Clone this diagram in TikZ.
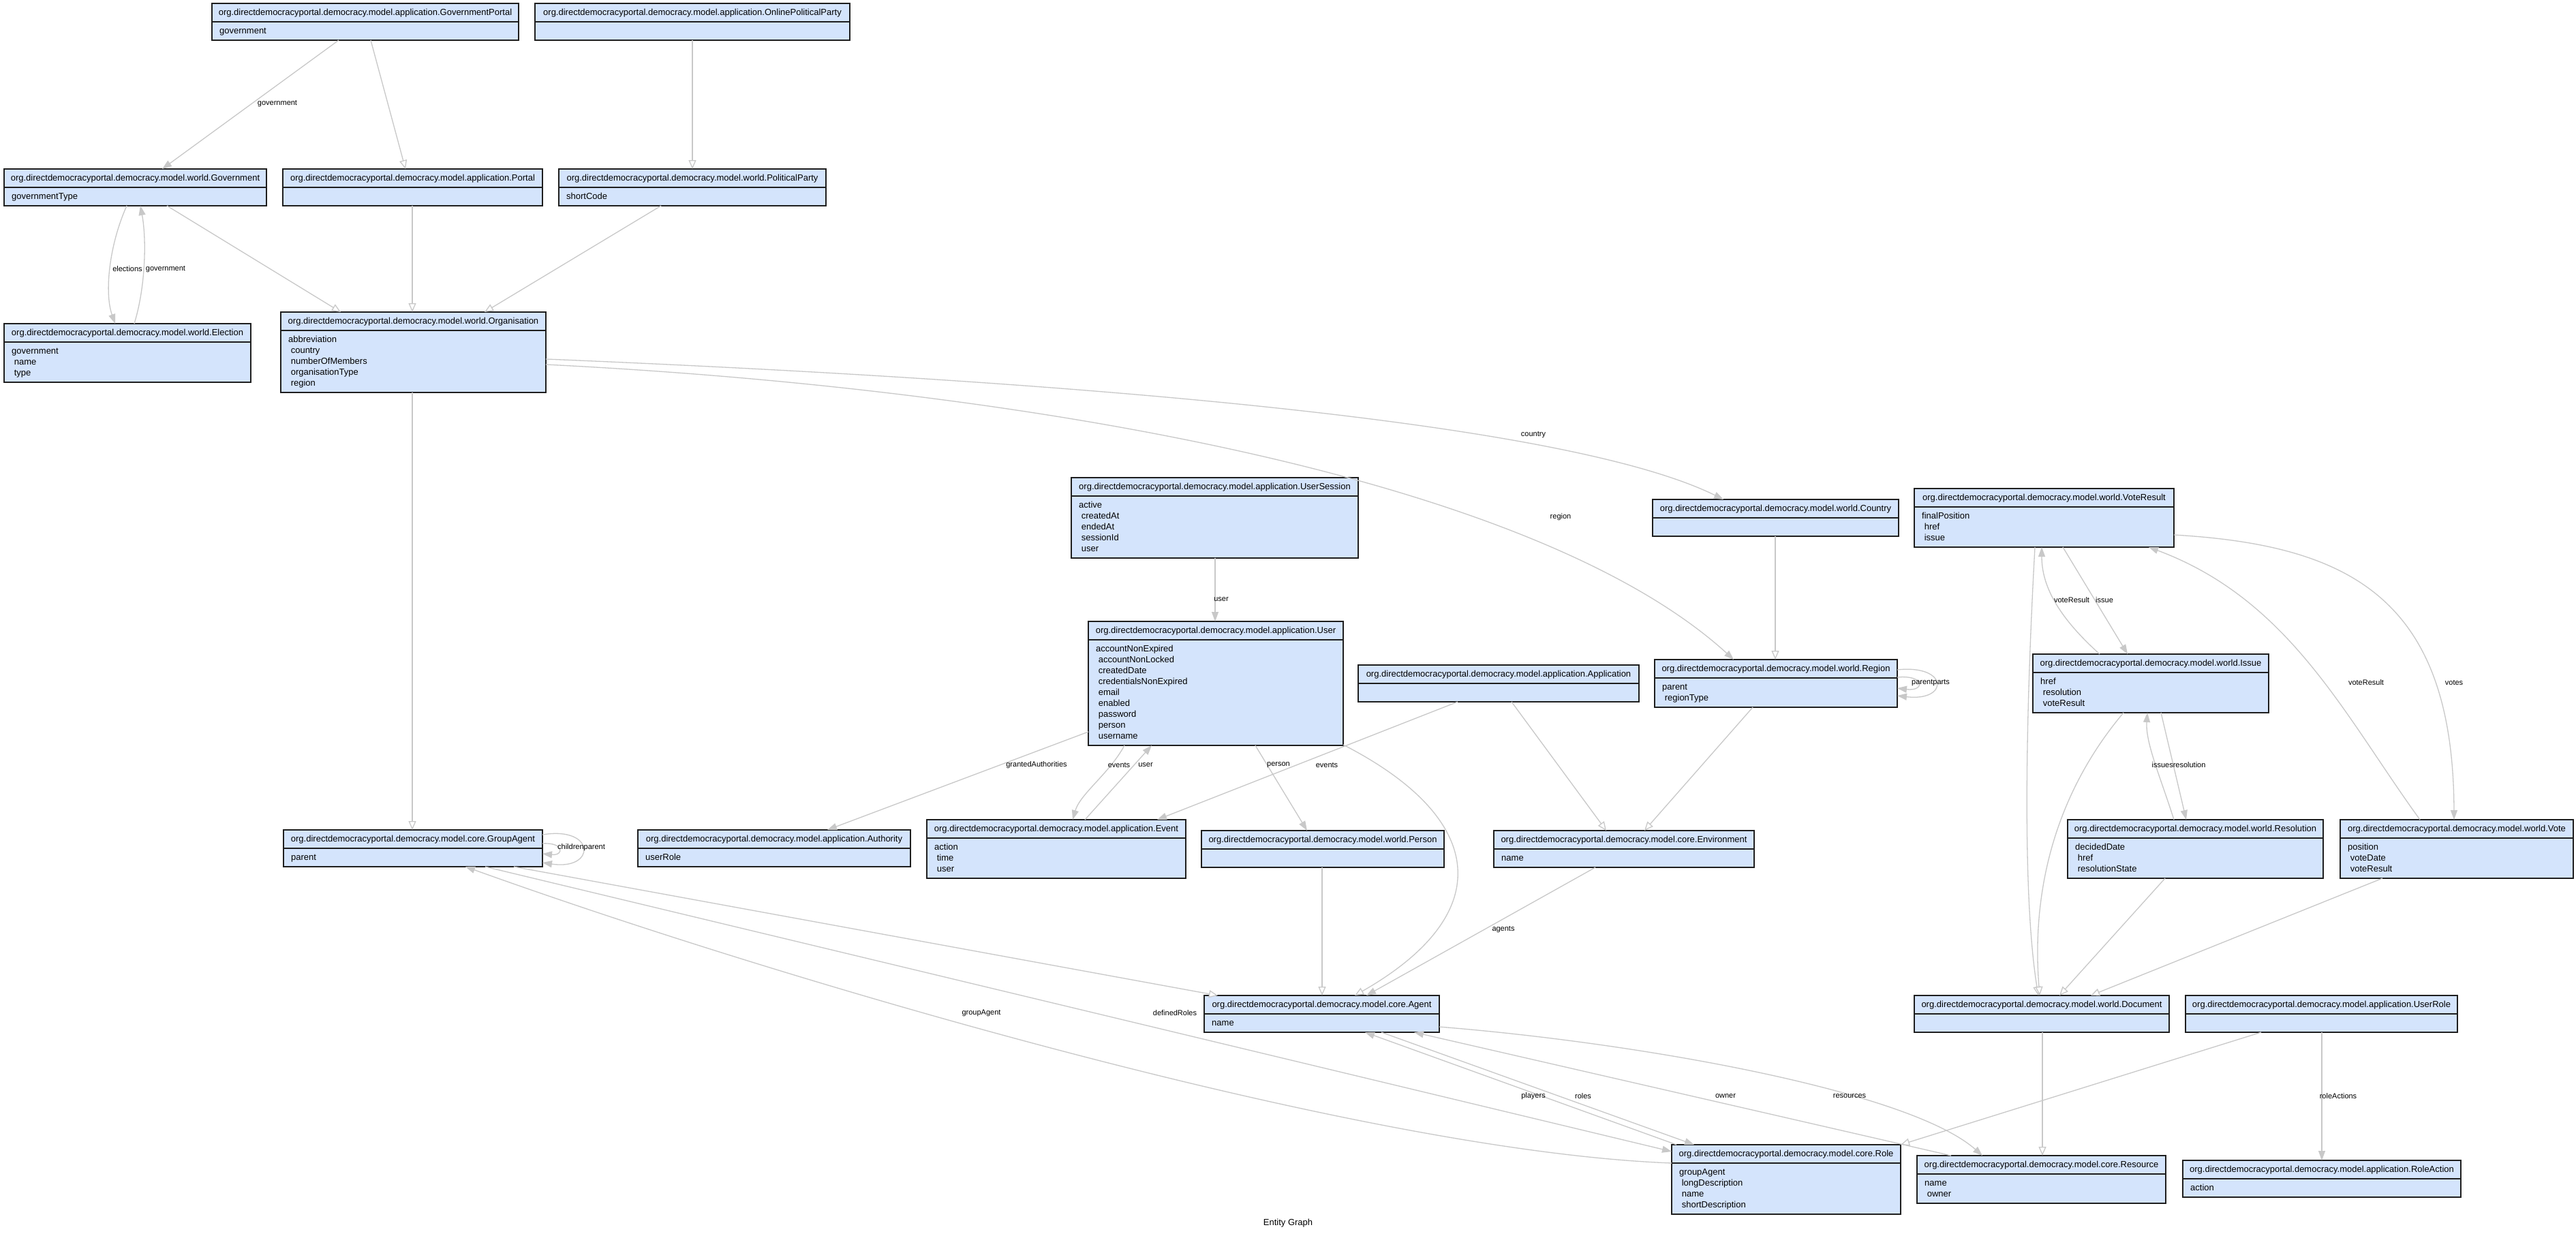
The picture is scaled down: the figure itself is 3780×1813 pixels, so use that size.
\documentclass[tikz,border=0pt]{standalone}
\usepackage{fontspec}
\setmainfont{Liberation Sans}
\usetikzlibrary{arrows.meta,calc}
\definecolor{boxfill}{RGB}{212,228,252}
\definecolor{boxline}{RGB}{30,30,30}
\definecolor{edgec}{RGB}{200,200,200}
\tikzset{
  clsbox/.style={draw=boxline, line width=1.6pt, fill=boxfill, inner sep=0pt, outer sep=0pt, rectangle},
  divln/.style={draw=boxline, line width=1.6pt},
  ttl/.style={font=\fontsize{13}{15}\selectfont, inner sep=0pt, anchor=base},
  attr/.style={font=\fontsize{13}{15}\selectfont, inner sep=0pt, anchor=base west},
  elabel/.style={font=\fontsize{11}{13}\selectfont, inner sep=0pt},
  assoc/.style={draw=edgec, line width=1.3pt, -{Triangle[length=14pt,width=10pt]}},
  inh/.style={draw=edgec, line width=1.3pt, -{Triangle[open,fill=white,length=13pt,width=11pt]}},
}
\newcommand{\umlcls}[7]{%
  \node[clsbox, anchor=north west, minimum width={(#4)-(#2)}, minimum height={(#5)-(#3)}] (#1) at (#2,#3) {};
  \draw[divln] (#2,#3+27) -- (#4,#3+27);
  \node[ttl] at ({(#2+#4)/2},#3+17) {#6};
  \ifx\relax#7\relax\else
  \foreach \attrtext [count=\attrnum] in {#7} {
    \node[attr] at (#2+11, #3+27+13.5+3.6+16*\attrnum-16) {\ifnum\attrnum>1 \hspace*{3.6pt}\fi\attrtext};
  }\fi
}
\begin{document}
\begin{tikzpicture}[x=1pt,y=-1pt]
\fill[white] (0,0) rectangle (3780,1813);
\useasboundingbox (0,0) rectangle (3780,1813);

% ---------- classes ----------
\umlcls{gp}{311}{5}{761}{59}{org.directdemocracyportal.democracy.model.application.GovernmentPortal}{government}
\umlcls{opp}{785}{5}{1247}{59}{org.directdemocracyportal.democracy.model.application.OnlinePoliticalParty}{}
\umlcls{gov}{6}{248}{391}{302}{org.directdemocracyportal.democracy.model.world.Government}{governmentType}
\umlcls{portal}{415}{248}{796}{302}{org.directdemocracyportal.democracy.model.application.Portal}{}
\umlcls{pp}{820}{248}{1212}{302}{org.directdemocracyportal.democracy.model.world.PoliticalParty}{shortCode}
\umlcls{elec}{6}{475}{368}{561}{org.directdemocracyportal.democracy.model.world.Election}{government,name,type}
\umlcls{org}{412}{458}{801}{576}{org.directdemocracyportal.democracy.model.world.Organisation}{abbreviation,country,numberOfMembers,organisationType,region}
\umlcls{usess}{1572}{701}{1993}{819}{org.directdemocracyportal.democracy.model.application.UserSession}{active,createdAt,endedAt,sessionId,user}
\umlcls{user}{1597}{912}{1971}{1094}{org.directdemocracyportal.democracy.model.application.User}{accountNonExpired,accountNonLocked,createdDate,credentialsNonExpired,email,enabled,password,person,username}
\umlcls{app}{1993}{976}{2405}{1030}{org.directdemocracyportal.democracy.model.application.Application}{}
\umlcls{country}{2425}{733}{2786}{787}{org.directdemocracyportal.democracy.model.world.Country}{}
\umlcls{region}{2428}{968}{2784}{1038}{org.directdemocracyportal.democracy.model.world.Region}{parent,regionType}
\umlcls{vres}{2809}{717}{3190}{803}{org.directdemocracyportal.democracy.model.world.VoteResult}{finalPosition,href,issue}
\umlcls{issue}{2983}{960}{3329}{1046}{org.directdemocracyportal.democracy.model.world.Issue}{href,resolution,voteResult}
\umlcls{resol}{3034}{1203}{3409}{1289}{org.directdemocracyportal.democracy.model.world.Resolution}{decidedDate,href,resolutionState}
\umlcls{vote}{3434}{1203}{3776}{1289}{org.directdemocracyportal.democracy.model.world.Vote}{position,voteDate,voteResult}
\umlcls{gagent}{416}{1218}{796}{1272}{org.directdemocracyportal.democracy.model.core.GroupAgent}{parent}
\umlcls{auth}{936}{1218}{1336}{1272}{org.directdemocracyportal.democracy.model.application.Authority}{userRole}
\umlcls{event}{1360}{1203}{1740}{1289}{org.directdemocracyportal.democracy.model.application.Event}{action,time,user}
\umlcls{person}{1763}{1219}{2119}{1273}{org.directdemocracyportal.democracy.model.world.Person}{}
\umlcls{env}{2192}{1219}{2574}{1273}{org.directdemocracyportal.democracy.model.core.Environment}{name}
\umlcls{agent}{1767}{1461}{2112}{1515}{org.directdemocracyportal.democracy.model.core.Agent}{name}
\umlcls{doc}{2809}{1461}{3183}{1515}{org.directdemocracyportal.democracy.model.world.Document}{}
\umlcls{urole}{3207}{1461}{3606}{1515}{org.directdemocracyportal.democracy.model.application.UserRole}{}
\umlcls{role}{2453}{1680}{2789}{1782}{org.directdemocracyportal.democracy.model.core.Role}{groupAgent,longDescription,name,shortDescription}
\umlcls{res}{2813}{1696}{3178}{1766}{org.directdemocracyportal.democracy.model.core.Resource}{name,owner}
\umlcls{ract}{3203}{1703}{3611}{1757}{org.directdemocracyportal.democracy.model.application.RoleAction}{action}

% ---------- connectors ----------
\draw[assoc] ([xshift=186pt]gp.south west) -- ([xshift=232pt]gov.north west);
\node[elabel] (l1) at (407,152) {government};
\draw[inh] ([xshift=233pt]gp.south west) -- ([xshift=180pt]portal.north west);
\draw[inh] ([xshift=231pt]opp.south west) -- ([xshift=196pt]pp.north west);
\draw[assoc] ([xshift=180pt]gov.south west) .. controls (160,360) and (153,430) .. ([xshift=163pt]elec.north west);
\node[elabel] (l2) at (187,395) {elections};
\draw[assoc] ([xshift=191pt]elec.north west) .. controls (214,420) and (215,350) .. ([xshift=200pt]gov.south west);
\node[elabel] (l3) at (243,395) {government};
\draw[inh] ([xshift=239pt]gov.south west) -- ([xshift=88pt]org.north west);
\draw[inh] ([xshift=190pt]portal.south west) -- ([xshift=193pt]org.north west);
\draw[inh] ([xshift=150pt]pp.south west) -- ([xshift=299pt]org.north west);
\draw[inh] ([xshift=193pt]org.south west) -- ([xshift=189pt]gagent.north west);
\draw[assoc] ([yshift=-69pt]org.north east) .. controls (1600,560) and (2300,620) .. ([xshift=104pt]country.north west);
\node[elabel] (l4) at (2250,638) {country};
\draw[assoc] ([yshift=-77pt]org.north east) .. controls (1500,570) and (2250,700) .. ([xshift=116pt]region.north west);
\node[elabel] (l5) at (2290,759) {region};

\draw[assoc] ([xshift=211pt]usess.south west) -- ([xshift=186pt]user.north west);
\node[elabel] (l6) at (1792,880) {user};
\draw[assoc] ([yshift=20pt]user.south west) -- ([xshift=278pt]auth.north west);
\node[elabel] (l7) at (1521,1123) {grantedAuthorities};
\draw[assoc] ([xshift=53pt]user.south west) .. controls (1628,1135) and (1585,1165) .. ([xshift=214pt]event.north west);
\node[elabel] (l8) at (1642,1123) {events};
\draw[assoc] ([xshift=232pt]event.north west) -- ([xshift=93pt]user.south west);
\node[elabel] (l9) at (1681,1123) {user};
\draw[assoc] ([xshift=245pt]user.south west) -- ([xshift=155pt]person.north west);
\node[elabel] (l10) at (1876,1123) {person};
\draw[assoc] ([xshift=146pt]app.south west) -- ([xshift=338pt]event.north west);
\node[elabel] (l11) at (1947,1123) {events};
\draw[inh] ([xshift=225pt]app.south west) -- ([xshift=165pt]env.north west);
\draw[inh] ([xshift=144pt]region.south west) -- ([xshift=221pt]env.north west);
\draw[inh] ([xshift=180pt]country.south west) -- ([xshift=177pt]region.north west);
\draw[assoc] ([yshift=-15pt]region.north east) .. controls (2860,975) and (2860,1030) .. ([yshift=-53pt]region.north east);
\draw[assoc] ([yshift=-26pt]region.north east) .. controls (2825,990) and (2825,1015) .. ([yshift=-42pt]region.north east);
\node[elabel] (l12) at (2833,1002) {parentparts};

\draw[assoc] ([yshift=-7pt]gagent.north east) .. controls (875,1212) and (875,1278) .. ([yshift=-48pt]gagent.north east);
\draw[assoc] ([yshift=-20pt]gagent.north east) .. controls (828,1236) and (828,1256) .. ([yshift=-35pt]gagent.north east);
\node[elabel] (l13) at (853,1244) {childrenparent};

\draw[inh] ([yshift=1pt]user.south east) .. controls (2180,1200) and (2200,1340) .. ([xshift=221pt]agent.north west);
\draw[inh] ([xshift=177pt]person.south west) -- ([xshift=173pt]agent.north west);
\draw[assoc] ([xshift=149pt]env.south west) -- ([xshift=238pt]agent.north west);
\node[elabel] (l14) at (2206,1364) {agents};
\draw[inh] ([xshift=338pt]gagent.south west) -- ([xshift=20pt]agent.north west);
\draw[assoc] ([yshift=-27pt]role.north west) .. controls (2000,1690) and (1150,1440) .. ([xshift=267pt]gagent.south west);
\node[elabel] (l15) at (1440,1487) {groupAgent};
\draw[assoc] ([xshift=296pt]gagent.south west) -- ([yshift=-10pt]role.north west);
\node[elabel] (l16) at (1724,1487) {definedRoles};
\draw[assoc] ([xshift=7pt]role.north west) -- ([xshift=236pt]agent.south west);
\node[elabel] (l17) at (2250,1609) {players};
\draw[assoc] ([xshift=260pt]agent.south west) -- ([xshift=33pt]role.north west);
\node[elabel] (l18) at (2323,1609) {roles};
\draw[assoc] ([xshift=50pt]res.north west) -- ([xshift=308pt]agent.south west);
\node[elabel] (l19) at (2532,1609) {owner};
\draw[assoc] ([yshift=8pt]agent.south east) .. controls (2400,1530) and (2800,1600) .. ([xshift=96pt]res.north west);
\node[elabel] (l20) at (2714,1609) {resources};
\draw[inh] ([xshift=111pt]urole.south west) -- (role.north east);
\draw[assoc] ([xshift=200pt]urole.south west) -- ([xshift=204pt]ract.north west);
\node[elabel] (l21) at (3431,1609) {roleActions};
\draw[inh] ([xshift=188pt]doc.south west) -- ([xshift=184pt]res.north west);

\draw[inh] ([xshift=177pt]vres.south west) .. controls (2975,1000) and (2965,1300) .. ([xshift=182pt]doc.north west);
\draw[inh] ([xshift=133pt]issue.south west) .. controls (3020,1160) and (2980,1300) .. ([xshift=184pt]doc.north west);
\draw[inh] ([xshift=143pt]resol.south west) -- ([xshift=213pt]doc.north west);
\draw[inh] ([xshift=62pt]vote.south west) -- ([xshift=259pt]doc.north west);
\draw[assoc] ([xshift=98pt]issue.north west) .. controls (3020,905) and (2996,860) .. ([xshift=187pt]vres.south west);
\node[elabel] (l22) at (3040,881) {voteResult};
\draw[assoc] ([xshift=218pt]vres.south west) -- ([xshift=139pt]issue.north west);
\node[elabel] (l23) at (3088,881) {issue};
\draw[assoc] ([xshift=156pt]resol.north west) .. controls (3170,1140) and (3148,1090) .. ([xshift=168pt]issue.south west);
\draw[assoc] ([xshift=188pt]issue.south west) -- ([xshift=174pt]resol.north west);
\node[elabel] (l24) at (3197,1123) {issuesresolution};
\draw[assoc] ([xshift=117pt]vote.north west) .. controls (3440,1050) and (3360,880) .. ([xshift=344pt]vres.south west);
\node[elabel] (l25) at (3472,1002) {voteResult};
\draw[assoc] ([yshift=18pt]vres.south east) .. controls (3450,800) and (3600,880) .. ([xshift=167pt]vote.north west);
\node[elabel] (l26) at (3601,1002) {votes};

\node[font=\fontsize{13}{15}\selectfont, inner sep=0pt] (title) at (1890,1795) {Entity Graph};
\end{tikzpicture}
\end{document}
